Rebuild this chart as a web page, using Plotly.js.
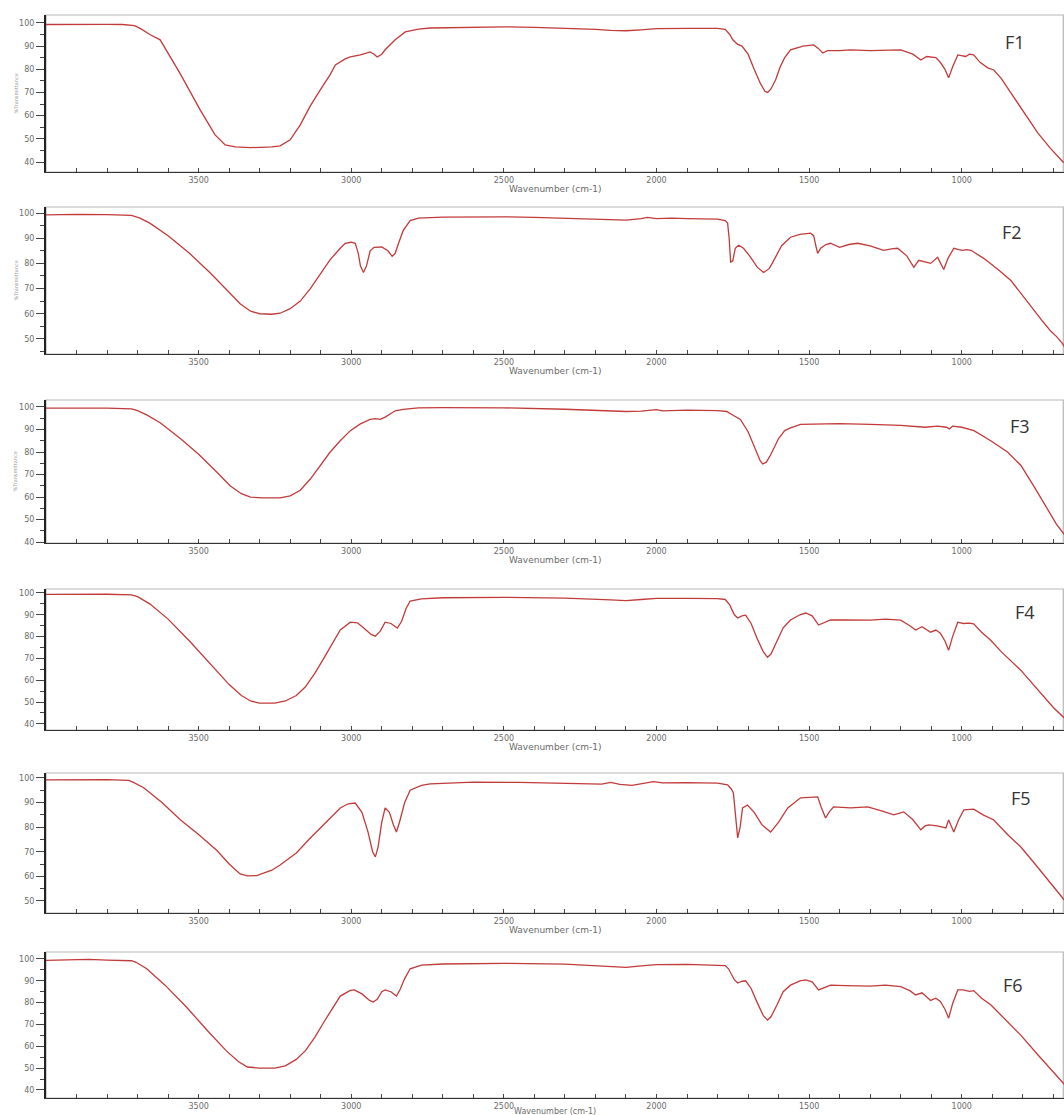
<!DOCTYPE html>
<html>
<head>
<meta charset="utf-8">
<script src="https://cdn.plot.ly/plotly-3.0.1.min.js"></script>
<style>html,body{margin:0;padding:0;background:#fff;}#chart{width:1064px;height:1115px;}</style>
</head>
<body>
<div id="chart"></div>
<script>
// ---- Data (wavenumber cm-1, %Transmittance) ----
const panelNames = ["F1", "F2", "F3", "F4", "F5", "F6"];
const xTickVals = [3500, 3000, 2500, 2000, 1500, 1000];
const xTickText = ["3500", "3000", "2500", "2000", "1500", "1000"];

const wnF1 = [4000,3900,3800,3750,3710,3690,3660,3626,3560,3495,3446,3413,3380,3330,3260,3233,3200,3167,3135,3102,3070,3052,3020,3003,2970,2938,2925,2915,2900,2889,2856,2823,2780,2741,2600,2500,2400,2300,2200,2150,2100,2050,2000,1900,1800,1775,1760,1750,1735,1720,1700,1680,1660,1645,1636,1625,1610,1595,1580,1561,1520,1485,1470,1455,1440,1400,1364,1300,1250,1200,1160,1134,1115,1102,1085,1069,1055,1043,1030,1013,1000,987,975,961,940,915,895,870,839,800,751,710,666];
const tF1  = [99.3,99.5,99.4,99.3,98.8,97.5,95,92.7,78,62.5,51.7,47.4,46.5,46.2,46.5,47,49.6,56,64,71,77.5,81.9,84.5,85.3,86.2,87.5,86.5,85.3,86.5,88.4,92.7,96.1,97.3,97.8,98.2,98.3,98.1,97.8,97.2,96.8,96.6,97.0,97.5,97.6,97.6,97.2,95,92.7,90.8,90.0,86.5,80,74,70.5,70,71.5,75.4,81,85,88.4,90,90.5,89,87,88,88,88.4,88,88.2,88.4,86.5,84,85.5,85.3,85,82.8,80,76.3,81,86.2,86,85.5,86.5,86.2,83,80.6,79.7,76,69.8,62,52.6,46,39.7];

const wnF2 = [4000,3900,3800,3720,3692,3660,3600,3530,3460,3400,3364,3330,3300,3260,3233,3200,3167,3134,3100,3069,3036,3020,3000,2987,2977,2970,2960,2950,2938,2925,2900,2880,2866,2856,2845,2830,2807,2780,2700,2600,2500,2400,2300,2200,2150,2100,2050,2030,2000,1950,1900,1800,1775,1767,1762,1757,1750,1742,1731,1715,1695,1670,1649,1630,1610,1590,1561,1530,1495,1485,1478,1472,1462,1445,1430,1410,1400,1370,1341,1300,1256,1230,1210,1180,1157,1141,1120,1102,1079,1068,1059,1045,1026,1010,997,985,970,928,880,839,800,764,735,708,690,669,655];
const tF2  = [99.3,99.5,99.4,99.1,98.0,96,91,84,76,68.5,64,61,60,59.8,60.2,62,65,70,76,81.5,86,88,88.4,88,84,79,76.4,79,85,86.4,86.5,85,82.8,84,88,93,97,98,98.4,98.5,98.5,98.3,98,97.6,97.4,97.2,97.8,98.3,97.8,98,97.8,97.6,97,96,90,80.5,81,86,87.2,86,83,78.5,76.4,78,82.5,87,90.4,91.5,92,91,87,84,86,87.5,88,87,86.4,87.5,88,87,85.2,85.8,86,83,78.4,81.2,80.5,80,82.4,80,77.6,82,86,85.5,85.2,85.5,85.2,82,77.5,73.2,67,61.2,57,53,51,48,45];

const wnF3 = [4000,3900,3800,3720,3702,3670,3626,3560,3500,3440,3397,3360,3330,3290,3233,3200,3167,3134,3100,3069,3036,3003,2970,2938,2921,2905,2889,2870,2856,2830,2780,2700,2500,2300,2150,2100,2050,2000,1980,1900,1800,1770,1745,1725,1700,1675,1660,1652,1640,1625,1600,1580,1561,1528,1480,1400,1300,1200,1120,1080,1050,1040,1030,1000,960,905,850,806,760,720,690,662];
const tF3  = [99.5,99.6,99.5,99.2,98.5,96.5,93,86,79,71,65,61.5,60,59.6,59.6,60.5,63,68,74,80,85,89.5,92.5,94.5,94.8,94.5,95.5,97.3,98.3,98.9,99.6,99.7,99.6,99.0,98.2,98,98.2,98.8,98.3,98.6,98.4,98,96,94.5,89,81,76,74.7,75.5,79,86,89.5,90.7,92.3,92.4,92.6,92.3,91.8,91,91.5,91,90.2,91.5,91,89.5,85,80,74,64,55,48,43];

const wnF4 = [4000,3900,3800,3720,3700,3660,3600,3530,3460,3400,3360,3330,3300,3250,3216,3180,3150,3120,3090,3060,3036,3003,2980,2960,2935,2921,2905,2889,2870,2849,2835,2820,2807,2770,2700,2500,2300,2150,2100,2050,2000,1900,1800,1775,1760,1745,1734,1720,1708,1690,1670,1650,1636,1625,1605,1585,1561,1530,1511,1490,1469,1455,1430,1380,1300,1250,1200,1170,1151,1130,1102,1085,1070,1055,1043,1030,1013,995,975,961,935,905,870,806,750,700,662];
const tF4  = [99.3,99.5,99.4,99.1,98.3,95,88,78,67,58,53,50.5,49.5,49.5,50.5,53,57,63,70,77,83,86.6,86.3,84,81,80.2,82.5,86.6,86,83.9,87,93,96.3,97.3,97.8,98.0,97.6,96.8,96.5,97.0,97.5,97.5,97.4,97,94.5,90,88.5,89.5,89.8,86,79,73,70.5,72,78,84,87.6,90,90.8,89.5,85.3,86,87.6,87.6,87.5,88,87.5,85,83,84.5,82,83,81.5,78,73.7,80,86.6,86,86.2,85.8,82,78.3,73,64.5,55.5,47.5,42.4];

const wnF5 = [4000,3900,3800,3730,3715,3680,3620,3560,3500,3440,3400,3364,3340,3310,3260,3233,3180,3134,3080,3036,3010,2987,2965,2945,2930,2921,2912,2900,2889,2875,2862,2852,2842,2825,2807,2770,2741,2600,2450,2300,2180,2150,2120,2080,2050,2010,1980,1900,1800,1767,1755,1748,1742,1734,1726,1718,1702,1680,1655,1626,1600,1570,1528,1490,1472,1460,1446,1435,1420,1364,1308,1260,1223,1190,1160,1134,1120,1108,1080,1052,1043,1026,1010,993,961,930,895,850,807,760,718,690,669,655];
const tF5  = [99.2,99.4,99.3,99,98.3,96,90,83,77,70.5,65,61,60.2,60.3,62.5,64.6,69.5,75.6,82.5,87.8,89.5,89.8,86,78,70,67.9,72,82,87.8,86,81,78,82,90,95,97,97.6,98.3,98.2,97.8,97.5,98.2,97.4,97.0,97.6,98.5,98.0,98.1,97.9,97.2,95.5,93.9,86,75.6,80,87.8,89,86,81,78,82,87.8,91.9,92.3,92.3,88,83.7,86,88.2,87.8,88.2,86.5,85,86.2,83,78.9,80.5,80.9,80.5,79.7,82.9,78,83,87,87.3,85,82.9,77,72,65,58.5,54,51.2,49];

const wnF6 = [4000,3900,3860,3800,3720,3705,3670,3610,3540,3470,3410,3370,3340,3300,3250,3216,3180,3150,3120,3090,3060,3036,3003,2990,2965,2940,2928,2915,2900,2889,2870,2852,2840,2825,2807,2770,2700,2500,2300,2150,2100,2050,2000,1900,1800,1775,1764,1745,1734,1720,1708,1690,1670,1650,1636,1625,1605,1585,1561,1530,1511,1490,1469,1455,1430,1380,1300,1250,1200,1170,1151,1130,1102,1085,1070,1055,1043,1030,1013,995,975,961,935,905,870,806,750,700,662];
const tF6  = [99.4,99.5,99.8,99.5,99.2,98.5,95.5,88,78,67,58,53,50.5,50,50,51,54,58,64,71,78,83,85.6,85.8,84,81,80.3,81.5,85,85.8,85,83,86,91,95.5,97.2,97.7,98.0,97.6,96.5,96.2,96.8,97.4,97.5,97.3,97,95.5,90.5,89,89.8,90,86.5,80,74,72,73.5,79,85,88,90,90.4,89.5,85.8,86.5,88,87.8,87.6,88,87.3,85.5,83.5,84.5,81,82,80.5,77,72.9,79.5,85.8,85.8,85.2,85.5,82,79,74,65,56,48,42.2];

const wnSets = [wnF1, wnF2, wnF3, wnF4, wnF5, wnF6];
const tSets  = [tF1, tF2, tF3, tF4, tF5, tF6];

// ---- Layout geometry (pixels in the 1064x1115 image) ----
const W = 1064, H = 1115;
const plotLeft = 46;
const panelTop    = [15, 207, 400, 589, 773, 952];
const panelBottom = [172, 354, 543, 730, 913, 1098];
const titleOffset = [17, 17, 17, 17, 17, 13];
const titleSize   = [9, 9, 9, 9, 9, 8];
const yRanges = [[35.7,103.4],[44,102.4],[39.6,103.1],[37.2,101.8],[45.1,102],[36.3,103.2]];
const yTicks  = [[40,50,60,70,80,90,100],[50,60,70,80,90,100],[40,50,60,70,80,90,100],[40,50,60,70,80,90,100],[50,60,70,80,90,100],[40,50,60,70,80,90,100]];
const labelPos = [[1015,42],[1012,232],[1020,426],[1025,612],[1021,798],[1013,985]];

const px2x = p => p / W;
const px2y = p => 1 - p / H;

const traces = [];
const layout = {
  width: W, height: H,
  margin: {l:0, r:0, t:0, b:0},
  paper_bgcolor: '#ffffff',
  plot_bgcolor: '#ffffff',
  showlegend: false,
  shapes: [],
  annotations: []
};

const tickFont = {family: 'DejaVu Sans, sans-serif', size: 8, color: '#6a6a6a'};
const lineColor = '#c23a3a';

for (let i = 0; i < 6; i++) {
  const n = i + 1;
  const xa = 'xaxis' + (n === 1 ? '' : n);
  const ya = 'yaxis' + (n === 1 ? '' : n);
  const xs = 'x' + (n === 1 ? '' : n);
  const ys = 'y' + (n === 1 ? '' : n);
  traces.push({
    x: wnSets[i], y: tSets[i], xaxis: xs, yaxis: ys,
    type: 'scatter', mode: 'lines',
    line: {color: lineColor, width: 1.3},
    hoverinfo: 'skip'
  });
  const yDom = [px2y(panelBottom[i]), px2y(panelTop[i])];
  layout[xa] = {
    domain: [px2x(plotLeft), 1],
    range: [4000, 665],
    anchor: ys,
    tickmode: 'array', tickvals: xTickVals, ticktext: xTickText,
    ticks: 'inside', ticklen: 4, tickwidth: 1, tickcolor: '#444',
    minor: {tickmode: 'linear', tick0: 0, dtick: 100, ticks: 'inside', ticklen: 4, tickwidth: 1, tickcolor: '#444'},
    showline: true, linecolor: '#333', linewidth: 1.3,
    showgrid: false, zeroline: false,
    tickfont: tickFont
  };
  layout[ya] = {
    domain: yDom,
    range: yRanges[i],
    anchor: xs,
    tickmode: 'array', tickvals: yTicks[i],
    ticks: 'outside', ticklen: 8, tickwidth: 1, tickcolor: '#444',
    minor: {tickmode: 'linear', tick0: 0, dtick: 5, ticks: 'outside', ticklen: 4, tickwidth: 1, tickcolor: '#444'},
    showline: true, linecolor: '#222', linewidth: 2,
    showgrid: false, zeroline: false,
    tickfont: tickFont
  };
  // light frame around the plot area
  layout.shapes.push({
    type: 'rect', xref: 'paper', yref: 'paper', layer: 'below',
    x0: px2x(plotLeft), x1: 1 - 0.7 / W, y0: yDom[0], y1: yDom[1],
    line: {color: '#b8b8b8', width: 1.2}
  });
  // x-axis title
  layout.annotations.push({
    xref: 'paper', yref: 'paper',
    x: (px2x(plotLeft) + 1) / 2, y: px2y(panelBottom[i] + titleOffset[i]),
    xanchor: 'center', yanchor: 'middle', showarrow: false,
    text: 'Wavenumber (cm-1)',
    font: {family: 'DejaVu Sans, sans-serif', size: titleSize[i], color: '#6a6a6a'}
  });
  // panel label
  layout.annotations.push({
    xref: 'paper', yref: 'paper',
    x: px2x(labelPos[i][0]), y: px2y(labelPos[i][1]),
    xanchor: 'center', yanchor: 'middle', showarrow: false,
    text: panelNames[i],
    font: {family: 'Open Sans, sans-serif', size: 18, color: '#333333'}
  });
  // faint y-axis title for the upper panels
  if (i < 3) {
    layout.annotations.push({
      xref: 'paper', yref: 'paper',
      x: px2x(15), y: (yDom[0] + yDom[1]) / 2,
      xanchor: 'center', yanchor: 'middle', showarrow: false,
      textangle: -90,
      text: '%Transmittance',
      font: {family: 'DejaVu Sans, sans-serif', size: 5, color: '#9a9a9a'}
    });
  }
}

Plotly.newPlot('chart', traces, layout, {displayModeBar: false, staticPlot: true});
</script>
</body>
</html>
